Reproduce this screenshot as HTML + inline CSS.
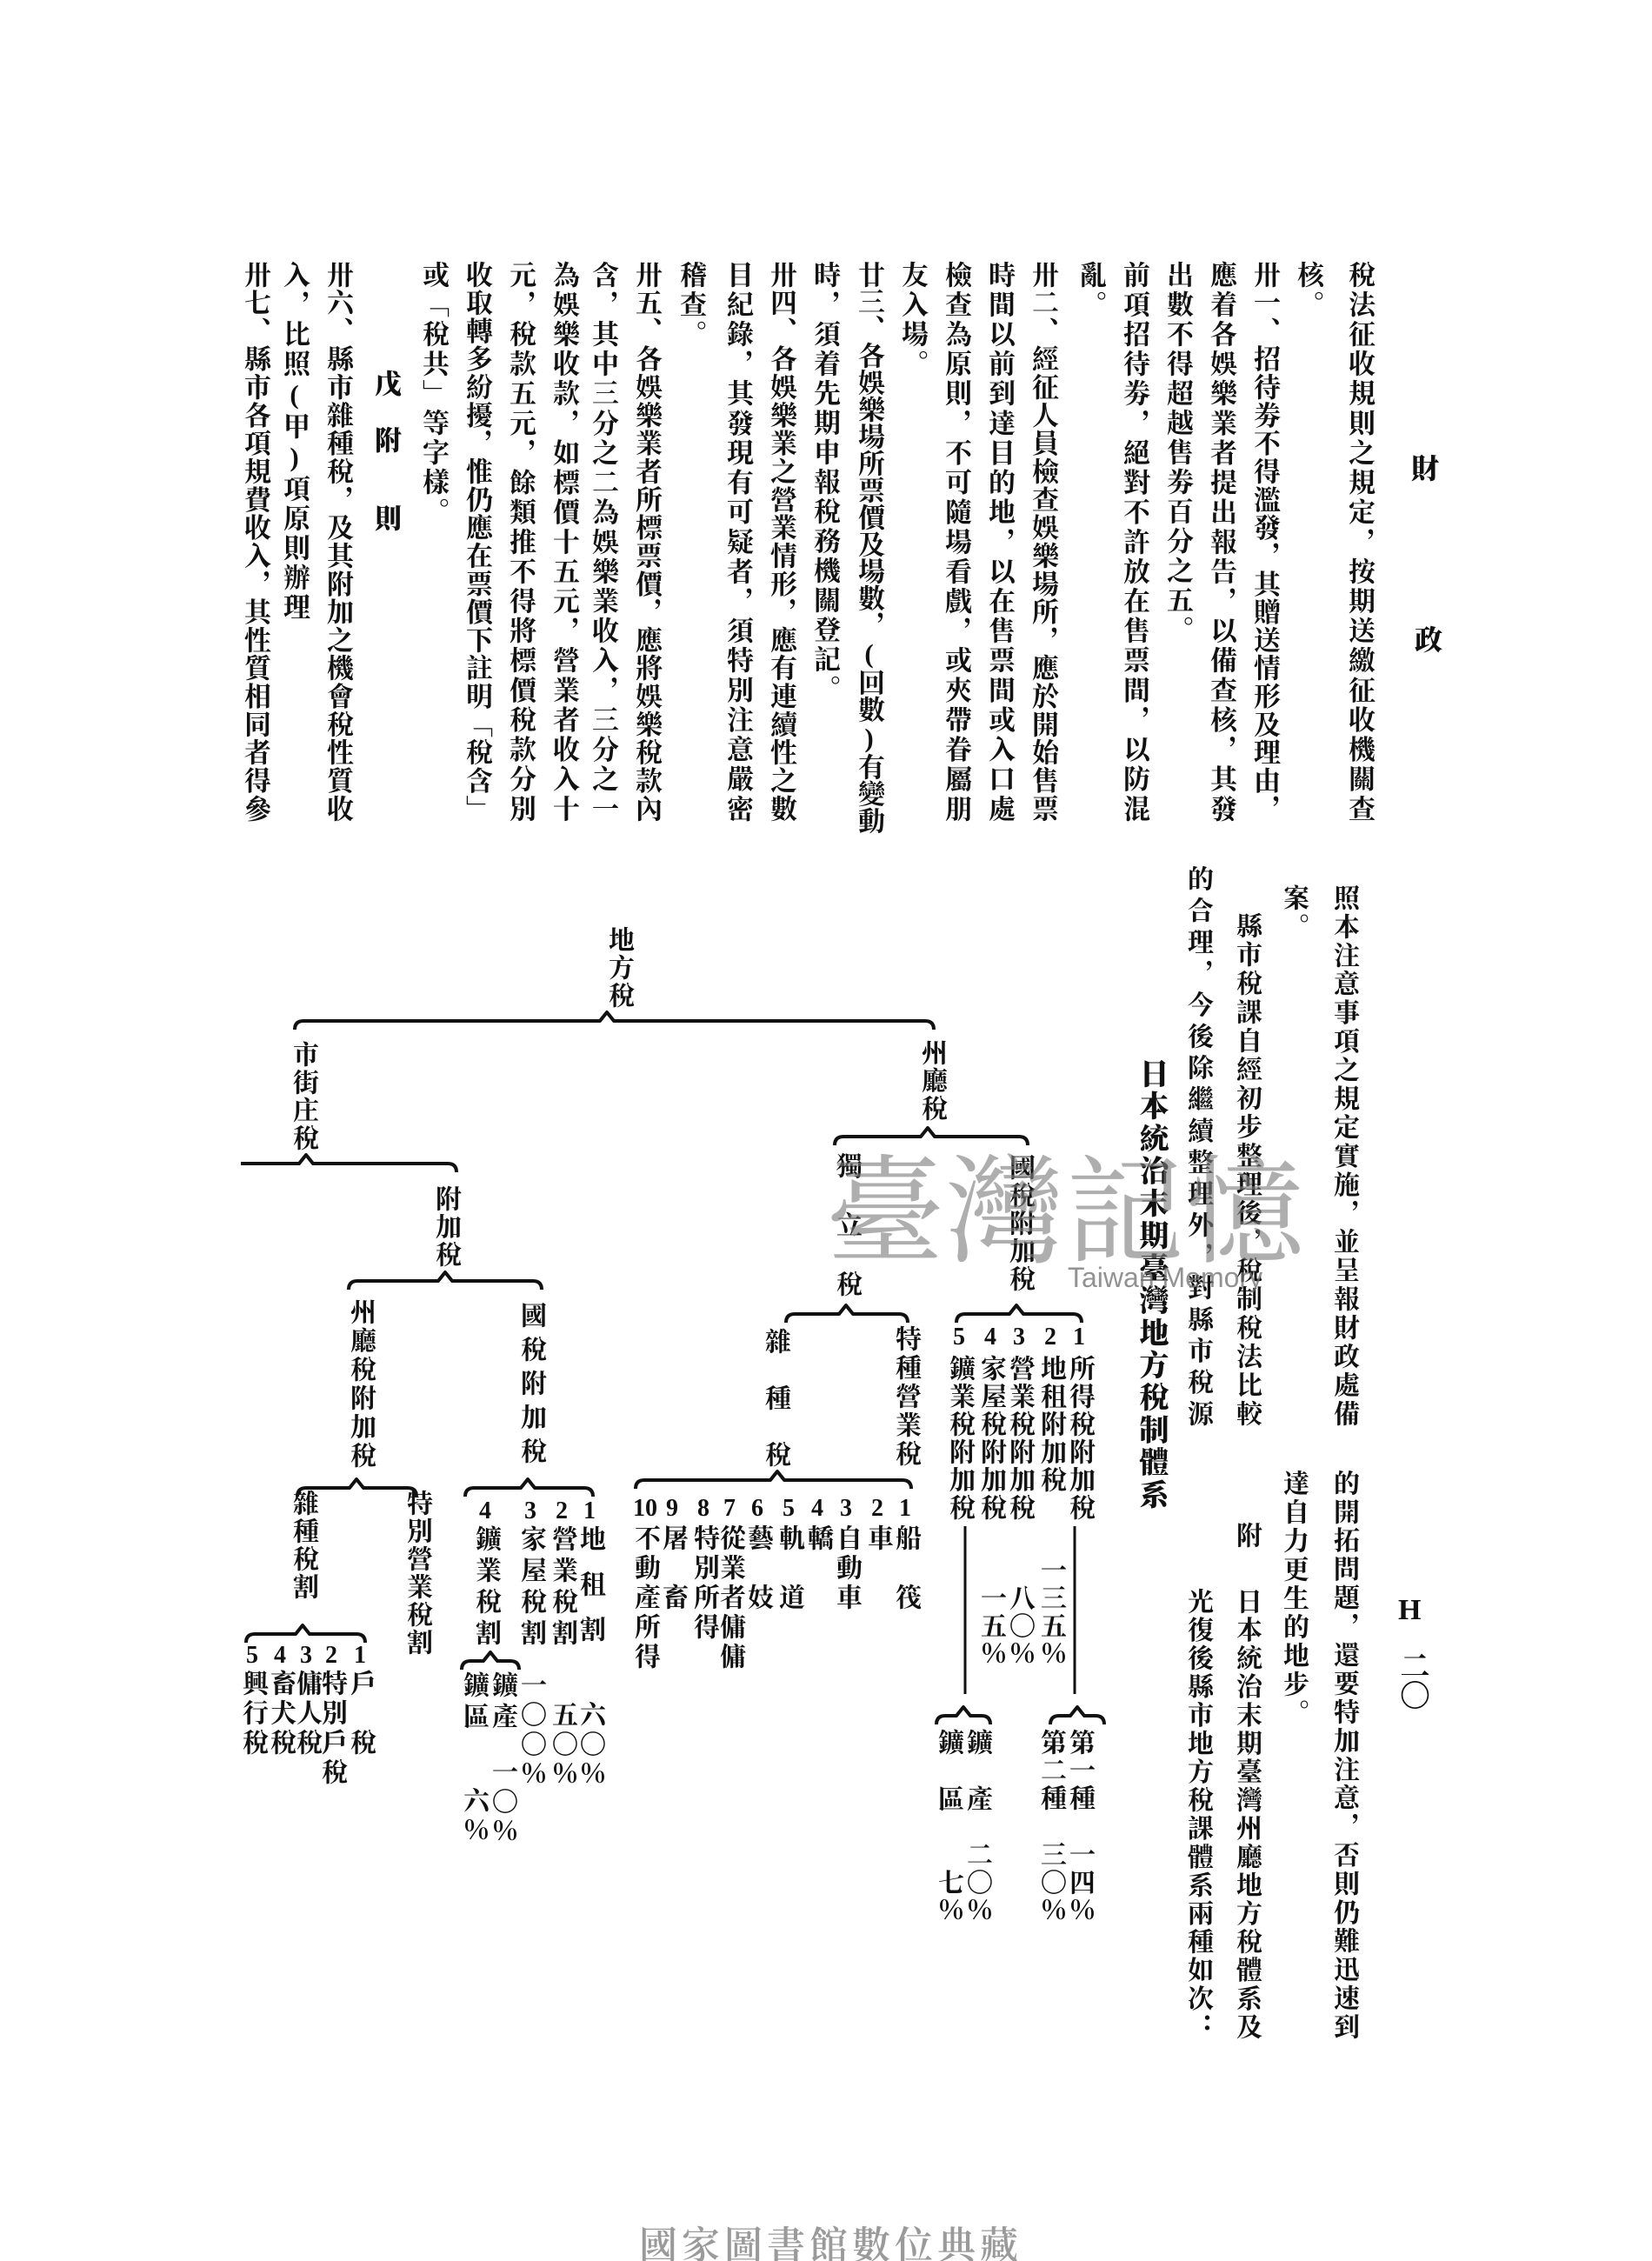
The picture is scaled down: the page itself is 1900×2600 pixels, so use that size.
<!DOCTYPE html>
<html><head><meta charset="utf-8">
<style>
html,body{margin:0;padding:0;background:#fff;}
#pg{position:relative;width:1900px;height:2600px;overflow:hidden;background:#fff;color:#111;
font-family:"Liberation Serif","Noto Serif CJK SC","Noto Sans CJK TC",serif;}
.v{position:absolute;writing-mode:vertical-rl;text-orientation:upright;white-space:nowrap;font-size:31px;line-height:31px;width:31px;letter-spacing:3px;font-weight:700;}
.f{height:645px;text-align:justify;text-align-last:justify;letter-spacing:0;}
.d{font-size:30px;line-height:30px;width:30px;letter-spacing:2px;font-weight:700;}
.n{position:absolute;font-size:28px;line-height:28px;font-weight:700;font-family:"Liberation Serif",serif;}
.b{font-weight:900;}
</style></head><body><div id="pg">

<div class="v b" style="left:1621px;top:522px;font-size:32px;">財</div>
<div class="v b" style="left:1625px;top:719px;font-size:32px;">政</div>

<div class="v f" style="left:1548px;top:300px;">稅法征收規則之規定，按期送繳征收機關查</div>
<div class="v" style="left:1489px;top:300px;">核。</div>
<div class="v f" style="left:1439px;top:300px;">卅一、招待劵不得濫發，其贈送情形及理由，</div>
<div class="v f" style="left:1389px;top:300px;">應着各娛樂業者提出報告，以備查核，其發</div>
<div class="v" style="left:1339px;top:300px;">出數不得超越售劵百分之五。</div>
<div class="v f" style="left:1289px;top:300px;">前項招待劵，絕對不許放在售票間，以防混</div>
<div class="v" style="left:1239px;top:300px;">亂。</div>
<div class="v f" style="left:1184px;top:300px;">卅二、經征人員檢查娛樂場所，應於開始售票</div>
<div class="v f" style="left:1134px;top:300px;">時間以前到達目的地，以在售票間或入口處</div>
<div class="v f" style="left:1084px;top:300px;">檢查為原則，不可隨場看戲，或夾帶眷屬朋</div>
<div class="v" style="left:1034px;top:300px;">友入場。</div>
<div class="v f" style="left:984px;top:300px;">廿三、各娛樂場所票價及場數，(回數)有變動</div>
<div class="v" style="left:933px;top:300px;">時，須着先期申報稅務機關登記。</div>
<div class="v f" style="left:883px;top:300px;">卅四、各娛樂業之營業情形，應有連續性之數</div>
<div class="v f" style="left:833px;top:300px;">目紀錄，其發現有可疑者，須特別注意嚴密</div>
<div class="v" style="left:779px;top:300px;">稽查。</div>
<div class="v f" style="left:728px;top:300px;">卅五、各娛樂業者所標票價，應將娛樂稅款內</div>
<div class="v f" style="left:678px;top:300px;">含，其中三分之二為娛樂業收入，三分之一</div>
<div class="v f" style="left:633px;top:300px;">為娛樂收款，如標價十五元，營業者收入十</div>
<div class="v f" style="left:583px;top:300px;">元，稅款五元，餘類推不得將標價稅款分別</div>
<div class="v f" style="left:533px;top:300px;">收取轉多紛擾，惟仍應在票價下註明「稅含」</div>
<div class="v" style="left:483px;top:300px;">或「稅共」等字樣。</div>
<div class="v b" style="left:428px;top:425px;">戊</div>
<div class="v b" style="left:428px;top:490px;">附</div>
<div class="v b" style="left:428px;top:580px;">則</div>
<div class="v f" style="left:373px;top:300px;">卅六、縣市雜種稅，及其附加之機會稅性質收</div>
<div class="v" style="left:323px;top:300px;">入，比照(甲)項原則辦理</div>
<div class="v f" style="left:278px;top:300px;">卅七、縣市各項規費收入，其性質相同者得參</div>

<div class="v f" style="left:1531px;top:1017px;height:623px;font-size:30px;width:30px;">照本注意事項之規定實施，並呈報財政處備</div>
<div class="v" style="left:1473px;top:1017px;font-size:30px;width:30px;">案。</div>
<div class="v f" style="left:1419px;top:1049px;height:591px;font-size:30px;width:30px;">縣市稅課自經初步整理後，稅制稅法比較</div>
<div class="v f" style="left:1363px;top:995px;height:645px;font-size:30px;width:30px;">的合理，今後除繼續整理外，對縣市稅源</div>
<div class="v b f" style="left:1305px;top:1217px;height:518px;font-size:34px;width:34px;">日本統治末期臺灣地方稅制體系</div>
<div class="v f" style="left:1531px;top:1690px;height:655px;font-size:30px;width:30px;">的開拓問題，還要特加注意，否則仍難迅速到</div>
<div class="v" style="left:1473px;top:1690px;font-size:30px;width:30px;">達自力更生的地步。</div>
<div class="v" style="left:1419px;top:1750px;font-size:30px;width:30px;">附</div>
<div class="v f" style="left:1419px;top:1826px;height:519px;font-size:30px;width:30px;">日本統治末期臺灣州廳地方稅體系及</div>
<div class="v f" style="left:1363px;top:1826px;height:519px;font-size:30px;width:30px;">光復後縣市地方稅課體系兩種如次：</div>

<div class="n" style="left:1608px;top:1838px;font-size:34px;">H</div>
<div class="v b" style="left:1605px;top:1898px;font-size:34px;width:34px;letter-spacing:0;">二〇</div>

<svg width="1900" height="2600" style="position:absolute;left:0;top:0;" fill="none" stroke="#111" stroke-width="4" stroke-linejoin="round">
<path d="M339,1184 Q339,1174 349,1174 L690,1174 L698,1164 L706,1174 L1064,1174 Q1074,1174 1074,1184"/>
<path d="M960,1317 Q960,1307 970,1307 L1059,1307 L1067,1297 L1075,1307 L1172,1307 Q1182,1307 1182,1317"/>
<path d="M277,1338 L344,1338 L352,1328 L360,1338 L515,1338 Q525,1338 525,1348"/>
<path d="M401,1483 Q401,1473 411,1473 L504,1473 L512,1463 L520,1473 L613,1473 Q623,1473 623,1483"/>
<path d="M904,1521 Q904,1511 914,1511 L965,1511 L973,1501 L981,1511 L1034,1511 Q1044,1511 1044,1521"/>
<path d="M1100,1521 Q1100,1511 1110,1511 L1161,1511 L1169,1501 L1177,1511 L1234,1511 Q1244,1511 1244,1521"/>
<path d="M342,1721 Q342,1711 352,1711 L402,1711 L410,1701 L418,1711 L469,1711 Q479,1711 479,1721"/>
<path d="M535,1721 Q535,1711 545,1711 L599,1711 L607,1701 L615,1711 L672,1711 Q682,1711 682,1721"/>
<path d="M731,1712 Q731,1702 741,1702 L886,1702 L894,1692 L902,1702 L1038,1702 Q1048,1702 1048,1712"/>
<path d="M283,1889 Q283,1879 293,1879 L340,1879 L348,1869 L356,1879 L410,1879 Q420,1879 420,1889"/>
<path d="M531,1920 Q531,1910 541,1910 L556,1910 L564,1900 L572,1910 L587,1910 Q597,1910 597,1920"/>
<path d="M1077,1983 Q1077,1973 1087,1973 L1100,1973 L1108,1963 L1116,1973 L1129,1973 Q1139,1973 1139,1983"/>
<path d="M1208,1983 Q1208,1973 1218,1973 L1231,1973 L1239,1963 L1247,1973 L1260,1973 Q1270,1973 1270,1983"/>
<line x1="1110" y1="1755" x2="1110" y2="1948" stroke-width="3"/>
<line x1="1236" y1="1755" x2="1236" y2="1948" stroke-width="3"/>
</svg>

<div class="v d" style="left:696px;top:1065px;">地方稅</div>
<div class="v d" style="left:333px;top:1197px;">市街庄稅</div>
<div class="v d" style="left:1056px;top:1195px;">州廳稅</div>
<div class="v d" style="left:958px;top:1325px;letter-spacing:38px;">獨立稅</div>
<div class="v d" style="left:1157px;top:1327px;">國稅附加稅</div>
<div class="v d" style="left:497px;top:1363px;">附加稅</div>
<div class="v d" style="left:399px;top:1493px;letter-spacing:3px;">州廳稅附加稅</div>
<div class="v d" style="left:595px;top:1497px;letter-spacing:9px;">國稅附加稅</div>
<div class="v d" style="left:876px;top:1527px;letter-spacing:35px;">雜種稅</div>
<div class="v d" style="left:1026px;top:1524px;letter-spacing:3px;">特種營業稅</div>

<div class="n" style="left:1096px;top:1524px;">5</div>
<div class="n" style="left:1132px;top:1524px;">4</div>
<div class="n" style="left:1165px;top:1524px;">3</div>
<div class="n" style="left:1201px;top:1524px;">2</div>
<div class="n" style="left:1234px;top:1524px;">1</div>
<div class="v d" style="left:1226px;top:1558px;">所得稅附加稅</div>
<div class="v d" style="left:1193px;top:1558px;">地租附加稅</div>
<div class="v d" style="left:1157px;top:1558px;">營業稅附加稅</div>
<div class="v d" style="left:1124px;top:1558px;">家屋稅附加稅</div>
<div class="v d" style="left:1088px;top:1558px;">鑛業稅附加稅</div>
<div class="v d" style="left:1193px;top:1790px;">一三五％</div>
<div class="v d" style="left:1157px;top:1822px;">八〇％</div>
<div class="v d" style="left:1124px;top:1822px;">一五％</div>
<div class="v d" style="left:1075px;top:1988px;letter-spacing:35px;">鑛區</div>
<div class="v d" style="left:1108px;top:1988px;letter-spacing:35px;">鑛產</div>
<div class="v d" style="left:1193px;top:1988px;">第二種</div>
<div class="v d" style="left:1226px;top:1988px;">第一種</div>
<div class="v d" style="left:1226px;top:2117px;">一四％</div>
<div class="v d" style="left:1193px;top:2117px;">三〇％</div>
<div class="v d" style="left:1108px;top:2117px;">二〇％</div>
<div class="v d" style="left:1075px;top:2149px;">七％</div>

<div class="n" style="left:728px;top:1721px;">10</div>
<div class="n" style="left:766px;top:1721px;">9</div>
<div class="n" style="left:802px;top:1721px;">8</div>
<div class="n" style="left:832px;top:1721px;">7</div>
<div class="n" style="left:864px;top:1721px;">6</div>
<div class="n" style="left:900px;top:1721px;">5</div>
<div class="n" style="left:933px;top:1721px;">4</div>
<div class="n" style="left:966px;top:1721px;">3</div>
<div class="n" style="left:1002px;top:1721px;">2</div>
<div class="n" style="left:1034px;top:1721px;">1</div>
<div class="v d" style="left:1026px;top:1753px;letter-spacing:4px;">船　筏</div>
<div class="v d" style="left:994px;top:1753px;letter-spacing:4px;">車</div>
<div class="v d" style="left:958px;top:1753px;letter-spacing:4px;">自動車</div>
<div class="v d" style="left:925px;top:1753px;letter-spacing:4px;">轎</div>
<div class="v d" style="left:892px;top:1753px;letter-spacing:4px;">軌　道</div>
<div class="v d" style="left:856px;top:1753px;letter-spacing:4px;">藝　妓</div>
<div class="v d" style="left:824px;top:1753px;letter-spacing:4px;">從業者傭傭</div>
<div class="v d" style="left:794px;top:1753px;letter-spacing:4px;">特別所得</div>
<div class="v d" style="left:758px;top:1753px;letter-spacing:4px;">屠　畜</div>
<div class="v d" style="left:726px;top:1753px;letter-spacing:4px;">不動產所得</div>

<div class="v d" style="left:333px;top:1713px;">雜種稅割</div>
<div class="v d" style="left:464px;top:1713px;">特別營業稅割</div>
<div class="n" style="left:283px;top:1890px;">5</div>
<div class="n" style="left:315px;top:1890px;">4</div>
<div class="n" style="left:345px;top:1890px;">3</div>
<div class="n" style="left:374px;top:1890px;">2</div>
<div class="n" style="left:407px;top:1890px;">1</div>
<div class="v d" style="left:399px;top:1920px;letter-spacing:4px;">戶　稅</div>
<div class="v d" style="left:366px;top:1920px;letter-spacing:4px;">特別戶稅</div>
<div class="v d" style="left:337px;top:1920px;letter-spacing:4px;">傭人稅</div>
<div class="v d" style="left:307px;top:1920px;letter-spacing:4px;">畜犬稅</div>
<div class="v d" style="left:275px;top:1920px;letter-spacing:4px;">興行稅</div>

<div class="n" style="left:551px;top:1724px;">4</div>
<div class="n" style="left:603px;top:1724px;">3</div>
<div class="n" style="left:639px;top:1724px;">2</div>
<div class="n" style="left:671px;top:1724px;">1</div>
<div class="v d" style="left:663px;top:1754px;letter-spacing:22px;">地租割</div>
<div class="v d" style="left:631px;top:1754px;letter-spacing:6px;">營業稅割</div>
<div class="v d" style="left:595px;top:1754px;letter-spacing:6px;">家屋稅割</div>
<div class="v d" style="left:543px;top:1754px;letter-spacing:6px;">鑛業稅割</div>
<div class="v d" style="left:529px;top:1922px;letter-spacing:6px;">鑛區</div>
<div class="v d" style="left:562px;top:1922px;letter-spacing:6px;">鑛產</div>
<div class="v d" style="left:595px;top:1922px;letter-spacing:4px;">一〇〇％</div>
<div class="v d" style="left:631px;top:1956px;letter-spacing:4px;">五〇％</div>
<div class="v d" style="left:663px;top:1956px;letter-spacing:4px;">六〇％</div>
<div class="v d" style="left:562px;top:2022px;letter-spacing:4px;">一〇％</div>
<div class="v d" style="left:529px;top:2055px;letter-spacing:4px;">六％</div>

<div style="position:absolute;left:950px;top:1312px;font-size:136px;line-height:140px;color:rgba(125,125,125,0.62);letter-spacing:2px;font-family:'Noto Serif CJK SC',serif;font-weight:400;white-space:nowrap;">臺灣記憶</div>
<div style="position:absolute;left:1228px;top:1452px;font-size:32px;line-height:34px;color:rgba(110,110,110,0.75);font-family:'Liberation Sans',sans-serif;white-space:nowrap;">Taiwan Memory</div>

<div style="position:absolute;left:735px;top:2556px;font-size:44px;line-height:44px;color:#9a9a9a;letter-spacing:5px;font-family:'Noto Serif CJK SC',serif;font-weight:600;white-space:nowrap;">國家圖書館數位典藏</div>

</div></body></html>
